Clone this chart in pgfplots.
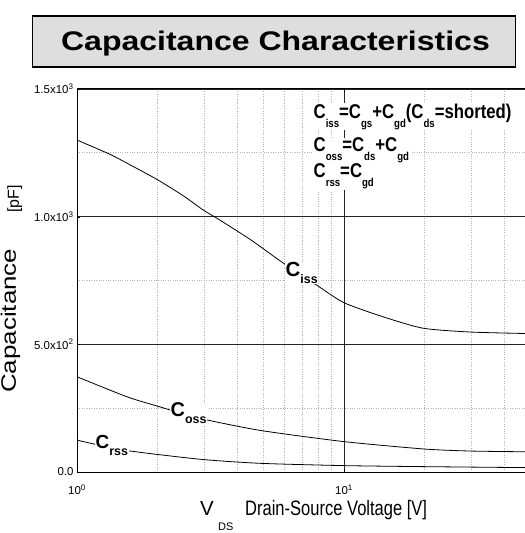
\documentclass[border=0pt]{standalone}
\usepackage{fontspec}
\setmainfont{Liberation Sans}
\usepackage{graphicx}
\usepackage{pgfplots}
\pgfplotsset{compat=1.18}
\definecolor{titlegray}{RGB}{222,222,222}
\newcommand\fsub[1]{\raisebox{-9bp}{\fontsize{11.5}{11.5}\selectfont #1}}
\newcommand\csub[1]{\raisebox{-7bp}{\fontsize{12.5}{12.5}\selectfont #1}}
\begin{document}
\begin{tikzpicture}
\useasboundingbox (-77bp,-61bp) rectangle (448bp,472bp);
\begin{axis}[
  scale only axis, width=453.6bp, height=383bp,
  xmode=log, log basis x=10, xmin=1, xmax=50, ymin=0, ymax=1500,
  xtick={1,10}, xticklabels={10\textsuperscript{0},10\textsuperscript{1}},
  minor xtick={2,3,4,5,6,7,8,9,20,30,40},
  ytick={0,500,1000,1500}, minor ytick={250,750,1250},
  yticklabels={0.0,5.0x10\textsuperscript{2},1.0x10\textsuperscript{3},1.5x10\textsuperscript{3}},
  grid=both,
  major grid style={black!85, line width=0.9bp},
  minor grid style={black!30, dotted, line width=0.8bp},
  tick align=inside, major tick length=3bp, minor tick length=0bp,
  tick style={black},
  axis line style={black, line width=1bp},
  /pgf/number format/assume math mode=true,
  tick label style={font=\fontsize{11.5}{12}\selectfont},
  xticklabel style={yshift=-9bp},
  clip=true,
]
\addplot[black, line width=0.8bp, smooth, tension=0.4] coordinates {
 (1,1300) (1.33,1244) (1.6,1200) (2,1145) (2.5,1082) (2.97,1026) (3.34,994) (4.45,911) (5.93,818) (7.9,732) (10,663) (14,608) (19.8,563) (30,548) (50,542)};
\addplot[black, line width=0.8bp, smooth, tension=0.4] coordinates {
 (1,373) (1.535,295) (2,258) (2.89,210) (4.85,163) (10,119) (20,90) (30,82) (50,79)};
\addplot[black, line width=0.8bp, smooth, tension=0.4] coordinates {
 (1,125) (1.49,86) (2.89,50) (4.85,34) (10,25) (20,21) (50,17)};
\end{axis}
% curve labels
\node[fill=white, inner sep=0.5bp, anchor=base west] at (208bp,195.3bp)
  {\fontsize{20.5}{20.5}\selectfont\bfseries C\csub{iss}};
\node[fill=white, inner sep=0.5bp, anchor=base west] at (93bp,55bp)
  {\fontsize{20}{20}\selectfont\bfseries C\csub{oss}};
\node[fill=white, inner sep=0.5bp, anchor=base west] at (18bp,24bp)
  {\fontsize{19}{19}\selectfont\bfseries C\csub{rss}};
% formulas
\node[fill=white, inner sep=0.5bp, anchor=base west] at (236bp,353.7bp)
  {\scalebox{0.84}[1]{\fontsize{20}{20}\selectfont\bfseries C\fsub{iss}=C\fsub{gs}+C\fsub{gd}(C\fsub{ds}=shorted)}};
\node[fill=white, inner sep=0.5bp, anchor=base west] at (236bp,320bp)
  {\scalebox{0.84}[1]{\fontsize{20}{20}\selectfont\bfseries C\fsub{oss}=C\fsub{ds}+C\fsub{gd}}};
\node[fill=white, inner sep=0.5bp, anchor=base west] at (236bp,294bp)
  {\scalebox{0.84}[1]{\fontsize{20}{20}\selectfont\bfseries C\fsub{rss}=C\fsub{gd}}};
% y label
\node[rotate=90, anchor=base west, inner sep=0pt] at (-61bp,79bp)
  {\scalebox{1.24}[1]{\fontsize{21}{21}\selectfont Capacitance}};
\node[rotate=90, anchor=base west, inner sep=0pt] at (-58bp,259bp)
  {\fontsize{16}{16}\selectfont [pF]};
% x label
\node[anchor=base west, inner sep=0pt] at (123bp,-43.7bp)
  {\fontsize{20.5}{20.5}\selectfont V};
\node[anchor=base west, inner sep=0pt] at (141bp,-58.3bp)
  {\fontsize{11}{11}\selectfont DS};
\node[anchor=base west, inner sep=0pt] at (168bp,-43.7bp)
  {\scalebox{0.79}[1]{\fontsize{21}{21}\selectfont Drain-Source Voltage [V]}};
% title
\node[draw=black, line width=1.6bp, fill=titlegray, minimum width=483bp, minimum height=51bp, inner sep=0pt] at (197bp,430.3bp) {};
\node[anchor=base, inner sep=0pt] at (198.5bp,421bp)
  {\scalebox{1.19}[1]{\fontsize{27}{27}\selectfont\bfseries Capacitance Characteristics}};
\end{tikzpicture}
\end{document}
